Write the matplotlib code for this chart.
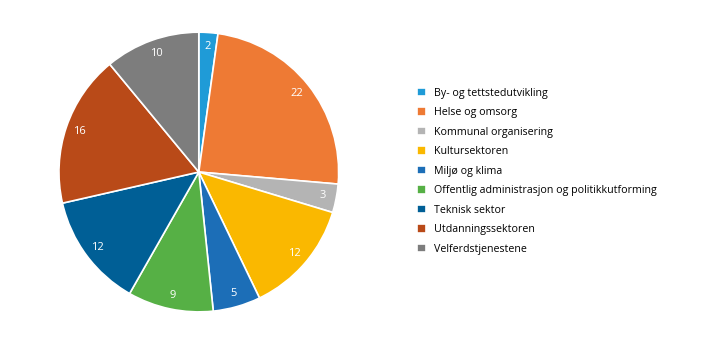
import matplotlib.pyplot as plt

plt.rcParams['font.family'] = ['Open Sans', 'DejaVu Sans']

categories = ["By- og tettstedutvikling", "Helse og omsorg", "Kommunal organisering",
              "Kultursektoren", "Miljø og klima",
              "Offentlig administrasjon og politikkutforming", "Teknisk sektor",
              "Utdanningssektoren", "Velferdstjenestene"]
counts = [2, 22, 3, 12, 5, 9, 12, 16, 10]
colors = ["#1f9bd7", "#ee7a34", "#b4b4b4", "#fab800", "#1c6eb7",
          "#56b045", "#005f96", "#b94a18", "#7d7d7d"]

fig = plt.figure(figsize=(7.19, 3.41), dpi=100)
ax = fig.add_axes([0.082, 0.085, 0.389, 0.821])

wedges, texts = ax.pie(counts, colors=colors, startangle=90, counterclock=False,
                       labels=[str(c) for c in counts], labeldistance=0.9,
                       wedgeprops=dict(edgecolor="white", linewidth=1.2),
                       textprops=dict(color="white", fontsize=8))
for t in texts:
    t.set_ha("center")
    t.set_va("center")
ax.set_xlim(-1, 1)
ax.set_ylim(-1, 1)
ax.set_aspect("equal")

fig.legend(wedges, categories, loc="upper left", bbox_to_anchor=(0.574, 0.755),
           frameon=False, fontsize=7.65, handlelength=0.87, handleheight=0.87,
           handletextpad=0.75, labelspacing=0.8, borderaxespad=0)

fig.savefig("out.png", dpi=100)
